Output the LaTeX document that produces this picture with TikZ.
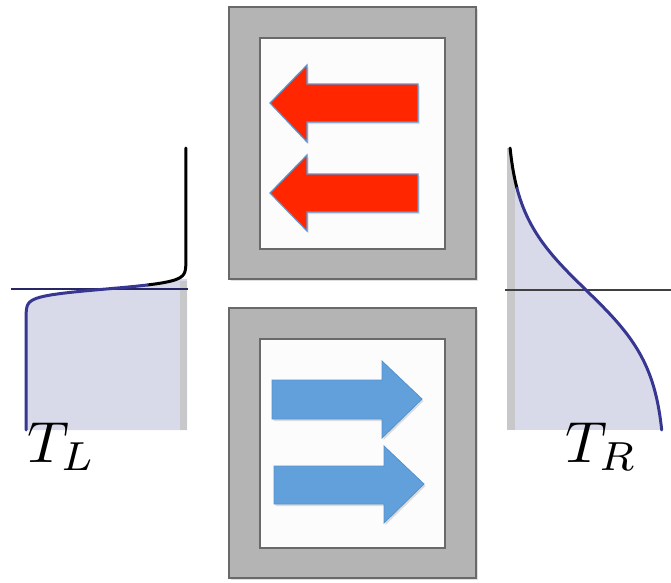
\documentclass[tikz,border=0pt]{standalone}
\usepackage{graphicx}
\usetikzlibrary{shadows}
\definecolor{framegray}{RGB}{180,180,180}
\definecolor{edgegray}{RGB}{105,105,105}
\definecolor{panelwhite}{RGB}{252,252,252}
\definecolor{leftred}{RGB}{255,38,0}
\definecolor{redrim}{RGB}{95,150,210}
\definecolor{rightblue}{RGB}{98,160,220}
\definecolor{bluerim}{RGB}{85,145,205}
\definecolor{profilefill}{RGB}{216,218,234}
\definecolor{wallgray}{RGB}{200,200,203}
\definecolor{profileblue}{RGB}{55,55,145}
% bounded hyperbolic tangent, safe for pgfmath
\pgfmathdeclarefunction{stanh}{1}{%
  \pgfmathparse{tanh(max(-4,min(4,#1)))}%
}
\tikzset{
  outerframe/.style={fill=framegray, draw=edgegray, line width=2pt,
    drop shadow={opacity=0.25, shadow xshift=1.5pt, shadow yshift=-2pt}},
  innerpanel/.style={fill=panelwhite, draw=edgegray, line width=2pt},
  redarrow/.style={fill=leftred, draw=redrim, line width=1.2pt, line join=miter,
    drop shadow={opacity=0.25, shadow xshift=1.5pt, shadow yshift=-2pt}},
  bluearrow/.style={fill=rightblue, draw=bluerim, line width=0.8pt, line join=miter,
    drop shadow={opacity=0.25, shadow xshift=1.5pt, shadow yshift=-2pt}},
  profile/.style={line width=3pt, line cap=round},
  level/.style={line width=1.2pt},
  templabel/.style={inner sep=0pt, anchor=base west}
}
\begin{document}
\begin{tikzpicture}[x=1pt,y=-1pt]
\useasboundingbox (0,0) rectangle (671,582);

% ---- upper reservoir: flow to the left ----
\draw[outerframe] (229,7) rectangle (476,279);
\draw[innerpanel] (260,38) rectangle (445,249);
\draw[redarrow] (270,103) -- (307,65) -- (307,84) -- (418,84) -- (418,122)
  -- (307,122) -- (307,142) -- cycle;
\draw[redarrow] (270,193) -- (307,155) -- (307,174) -- (418,174) -- (418,212)
  -- (307,212) -- (307,231) -- cycle;

% ---- lower reservoir: flow to the right ----
\draw[outerframe] (229,308) rectangle (476,578);
\draw[innerpanel] (260,339) rectangle (445,548);
\draw[bluearrow] (272,380) -- (382,380) -- (382,361) -- (422,399) -- (382,438)
  -- (382,419) -- (272,419) -- cycle;
\draw[bluearrow] (274,466) -- (384,466) -- (384,446) -- (424,484) -- (384,523)
  -- (384,504) -- (274,504) -- cycle;

% ---- left temperature profile ----
\fill[profilefill] plot[variable=\t, domain=279:430, samples=80]
  ({106+80*stanh((289-\t)/7)},\t) -- (187,430) -- (187,279) -- cycle;
\fill[wallgray] (179.5,281) rectangle (187,430);
\draw[level, color=profileblue!70!black] (11,289) -- (188,289);
\draw[profile, black] plot[variable=\t, domain=148:285, samples=120]
  ({106+80*stanh((289-\t)/7)},\t);
\draw[profile, profileblue] plot[variable=\t, domain=285:430, samples=120]
  ({106+80*stanh((289-\t)/7)},\t);

% ---- right temperature profile ----
\begin{scope}
  \clip plot[variable=\t, domain=148:430, samples=80]
    ({586+80*stanh((\t-290)/78)},\t) -- (507,430) -- (507,148) -- cycle;
  \fill[profilefill] (500,140) rectangle (671,430);
  \fill[wallgray] (507,140) rectangle (515,430);
\end{scope}
\draw[level, color=black!75] (505,290) -- (671,290);
\draw[profile, black] plot[variable=\t, domain=148:188, samples=40]
  ({586+80*stanh((\t-290)/78)},\t);
\draw[profile, profileblue] plot[variable=\t, domain=188:430, samples=120]
  ({586+80*stanh((\t-290)/78)},\t);

% ---- labels ----
\node[templabel] (TL) at (27,462) {\scalebox{5.8}{$T_L$}};
\node[templabel] (TR) at (565,462) {\scalebox{5.8}{$T_R$}};
\end{tikzpicture}
\end{document}
